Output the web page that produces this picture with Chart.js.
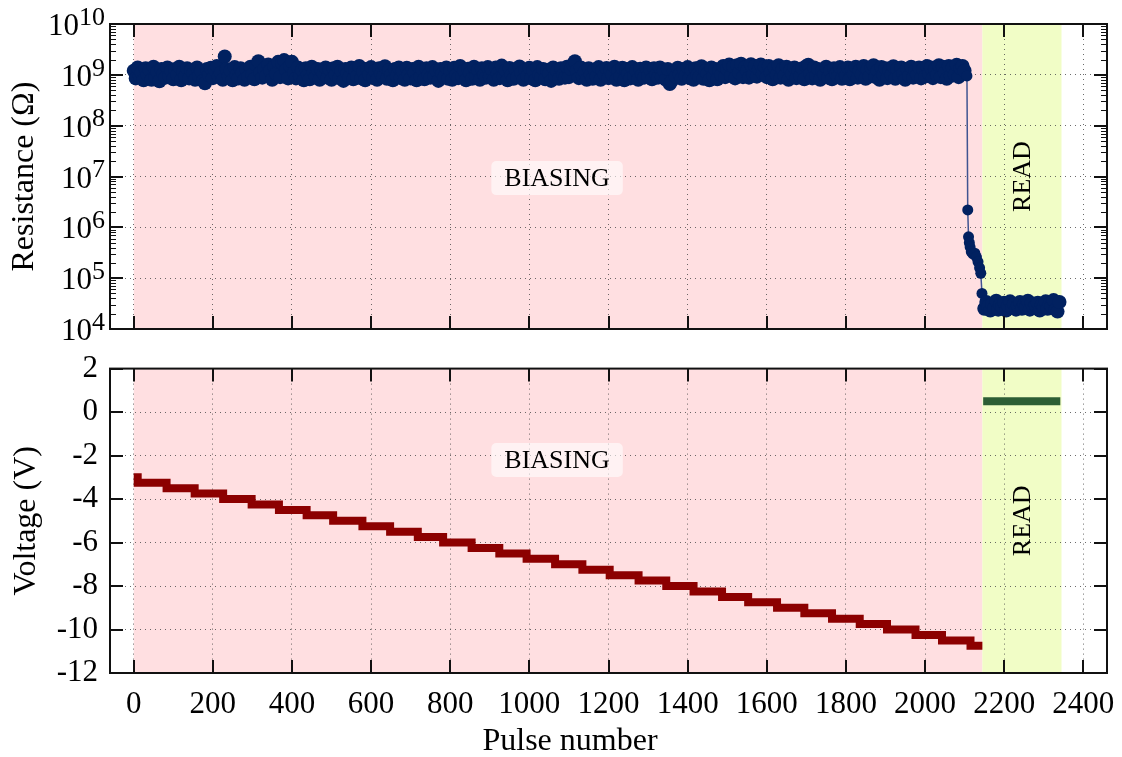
<!DOCTYPE html>
<html>
<head>
<meta charset="utf-8">
<title>Resistance and voltage vs pulse number</title>
<script src="https://cdn.jsdelivr.net/npm/chart.js@4/dist/chart.umd.min.js"></script>
<style>
  html, body { margin: 0; padding: 0; background: #fff; }
  #wrap { position: relative; width: 1122px; height: 757px; overflow: hidden; }
  canvas { position: absolute; left: 0; }
  #resChart { top: 0; }
  #voltChart { top: 338px; }
</style>
</head>
<body>
<div id="wrap">
  <canvas id="resChart" width="1122" height="360"></canvas>
  <canvas id="voltChart" width="1130" height="419"></canvas>
</div>
<script>
// ---- axes ----
const pulseTicks = [0, 200, 400, 600, 800, 1000, 1200, 1400, 1600, 1800, 2000, 2200, 2400];
const resTicks = [1e4, 1e5, 1e6, 1e7, 1e8, 1e9, 1e10];
const voltTicks = [-12, -10, -8, -6, -4, -2, 0, 2];

// ---- phases ----
const phaseNames = ["BIASING", "READ"];
const phaseFrom = [0, 2145];
const phaseTo = [2145, 2345];

// ---- resistance ----
// biasing phase, one reading every 5 pulses, in GOhm
const biasEvery = 5;
const biasResG = [
  1.20, 0.85, 1.40, 0.95, 1.10, 0.78, 1.35, 1.00, 1.25, 0.80,
  1.45, 0.90, 1.15, 0.75, 1.30, 1.05, 0.88, 1.40, 0.95, 1.20,
  0.82, 1.30, 1.00, 1.45, 0.78, 1.15, 0.92, 1.35, 0.85, 1.25,
  1.05, 0.80, 1.40, 0.95, 1.20, 0.76, 0.68, 1.30, 1.00, 1.38,
  0.86, 1.25, 1.50, 0.90, 1.10, 0.80, 2.30, 1.30, 0.95, 1.20,
  0.78, 1.42, 1.00, 0.85, 1.35, 1.10, 0.80, 1.28, 0.92, 1.45,
  1.00, 0.82, 1.55, 1.85, 1.10, 0.88, 1.30, 0.95, 1.60, 1.20,
  0.80, 1.45, 1.05, 1.80, 0.90, 1.70, 1.95, 1.25, 0.85, 1.50,
  1.80, 1.10, 0.85, 1.40, 0.95, 1.25, 0.78, 1.35, 1.00, 0.82,
  1.45, 1.15, 0.90, 1.30, 0.80, 1.20, 1.05, 1.40, 0.88, 1.28,
  0.80, 1.35, 1.00, 1.45, 0.86, 1.20, 0.76, 1.30, 1.05, 0.90,
  1.40, 0.82, 1.25, 0.95, 1.50, 0.85, 1.15, 0.78, 1.32, 1.00,
  1.42, 0.88, 1.20, 0.80, 1.35, 1.05, 0.92, 1.48, 0.84, 1.25,
  1.00, 0.78, 1.30, 0.95, 1.40, 0.86, 1.18, 0.80, 1.38, 1.02,
  0.85, 1.30, 1.10, 0.78, 1.45, 0.92, 1.25, 0.82, 1.35, 1.00,
  0.88, 1.42, 0.95, 1.20, 0.76, 1.30, 1.05, 0.90, 1.40, 0.84,
  1.22, 0.80, 1.38, 1.00, 0.86, 1.50, 0.94, 1.20, 0.78, 1.32,
  1.08, 0.84, 1.45, 0.90, 1.25, 0.80, 1.35, 1.00, 0.88, 1.42,
  0.92, 1.28, 0.80, 1.40, 1.05, 0.86, 1.52, 0.95, 1.20, 0.78,
  1.36, 1.00, 0.84, 1.30, 0.90, 1.46, 1.10, 0.80, 1.25, 0.95,
  1.38, 0.85, 1.20, 0.78, 1.42, 1.00, 0.90, 1.30, 0.82, 1.25,
  1.05, 0.76, 1.40, 0.95, 1.18, 0.84, 1.34, 1.00, 0.88, 1.45,
  0.90, 1.30, 1.60, 1.85, 1.20, 0.86, 1.40, 0.95, 1.15, 0.80,
  1.35, 1.00, 0.84, 1.28, 0.92, 1.42, 0.80, 1.22, 1.00, 1.36,
  0.86, 1.25, 1.00, 1.45, 0.80, 1.20, 0.92, 1.38, 0.78, 1.30,
  1.05, 0.85, 1.42, 0.95, 1.20, 0.80, 1.32, 1.00, 0.88, 1.40,
  0.95, 1.28, 0.82, 1.35, 1.00, 0.88, 1.40, 0.90, 1.22, 0.80,
  1.30, 0.66, 0.76, 1.20, 0.92, 1.38, 1.02, 0.84, 1.30, 0.95,
  1.42, 0.86, 1.25, 0.80, 1.35, 1.00, 0.90, 1.48, 0.84, 1.20,
  1.05, 0.78, 1.40, 0.95, 1.30, 0.82, 1.22, 1.00, 1.50, 0.90,
  1.30, 1.60, 0.95, 1.45, 0.85, 1.55, 1.10, 1.65, 0.90, 1.40,
  1.20, 0.88, 1.62, 1.00, 1.50, 0.92, 1.30, 1.60, 1.05, 1.45,
  0.90, 1.50, 1.10, 0.82, 1.40, 1.00, 1.55, 0.88, 1.30, 0.95,
  1.45, 0.80, 1.25, 1.05, 1.40, 0.86, 1.20, 0.95, 1.35, 0.82,
  1.50, 1.58, 1.05, 0.85, 1.40, 0.95, 1.30, 0.80, 1.22, 1.00,
  1.45, 0.88, 1.20, 0.82, 1.35, 1.05, 0.90, 1.42, 0.84, 1.28,
  0.95, 1.40, 0.82, 1.30, 1.05, 1.45, 0.88, 1.22, 1.00, 1.50,
  0.84, 1.30, 0.92, 1.38, 1.55, 0.90, 1.20, 0.80, 1.42, 1.00,
  1.35, 0.86, 1.25, 1.00, 1.48, 0.84, 1.30, 0.92, 1.40, 1.05,
  0.80, 1.32, 0.95, 1.45, 0.88, 1.20, 1.00, 1.40, 0.85, 1.30,
  0.92, 1.50, 1.05, 1.40, 0.86, 1.30, 1.00, 1.55, 0.90, 1.45,
  1.10, 0.84, 1.50, 0.95, 1.40, 1.00, 1.58, 0.90, 1.35, 1.50,
  1.20
];
// switching pulses, in Ohm
const switchPulse = [2106, 2108, 2110, 2112, 2114, 2117, 2121, 2126, 2130, 2134, 2138, 2141, 2144, 2147];
const switchRes = [0.95e9, 2.2e6, 6.5e5, 5.0e5, 4.1e5, 3.3e5, 3.0e5, 3.1e5, 2.6e5, 2.1e5, 1.6e5, 1.25e5, 5.0e4, 2.6e4];
// read phase, one reading every 5 pulses from pulse 2150, in 10^4 Ohm
const readStart = 2150;
const readEvery = 5;
const readRes4 = [
  2.5, 3.4, 2.8, 2.3, 3.1, 2.6, 3.6, 2.4, 3.0, 2.7,
  3.3, 2.3, 2.9, 3.5, 2.6, 3.1, 2.4, 2.8, 3.4, 2.5,
  3.0, 2.7, 3.6, 2.4, 3.2, 2.6, 2.9, 3.3, 2.3, 3.0,
  2.7, 3.5, 2.5, 3.1, 2.8, 3.7, 2.4, 2.2, 3.4
];

// ---- voltage ----
// biasing staircase: pulse where each level starts, and the level in V
const voltStepAt = [0, 10, 83, 154, 226, 298, 367, 437, 504, 578, 648, 718,
                    782, 854, 924, 993, 1065, 1134, 1203, 1276, 1346, 1415, 1487,
                    1553, 1626, 1695, 1765, 1835, 1904, 1976, 2043, 2115];
const voltLevel = [-3.0, -3.25, -3.5, -3.75, -4.0, -4.25, -4.5, -4.75, -5.0, -5.25, -5.5, -5.75,
                   -6.0, -6.25, -6.5, -6.75, -7.0, -7.25, -7.5, -7.75, -8.0, -8.25, -8.5,
                   -8.75, -9.0, -9.25, -9.5, -9.75, -10.0, -10.25, -10.5, -10.75];
const voltEnd = 2145;
const readVoltPulse = [2147, 2342];
const readVolt = [0.5, 0.5];

const serif = "'Liberation Serif', 'Times New Roman', serif";

const resPoints = biasResG.map((g, i) => ({ x: i * biasEvery, y: g * 1e9 }))
  .concat(switchPulse.map((p, i) => ({ x: p, y: switchRes[i] })))
  .concat(readRes4.map((r, i) => ({ x: readStart + i * readEvery, y: r * 1e4 })));

// the sparse switching points are drawn a little smaller than the dense bands
const switchFirst = biasResG.length;
const switchLast = switchFirst + switchPulse.length - 1;

const voltPoints = voltStepAt.map((p, i) => ({ x: p, y: voltLevel[i] }));
voltPoints.push({ x: voltEnd, y: voltLevel[voltLevel.length - 1] });

const readPoints = readVoltPulse.map((p, i) => ({ x: p, y: readVolt[i] }));

/* -------- frame, shading and labels -------- */

const framePlugin = {
  id: "frame",
  beforeDraw(chart, args, opts) {
    const { ctx, chartArea: a, scales: { x } } = chart;
    ctx.save();
    phaseFrom.forEach((from, i) => {
      const x0 = x.getPixelForValue(from);
      const x1 = x.getPixelForValue(phaseTo[i]);
      ctx.fillStyle = opts.fills[i];
      ctx.fillRect(x0, a.top, x1 - x0, a.bottom - a.top);
    });
    ctx.restore();
  },
  afterDraw(chart, args, opts) {
    const { ctx, chartArea: a, scales: { x, y } } = chart;
    ctx.save();

    // inward tick marks on all four sides
    ctx.strokeStyle = "#111";
    ctx.lineWidth = 2;
    ctx.beginPath();
    x.ticks.forEach(t => {
      const px = Math.round(x.getPixelForValue(t.value));
      ctx.moveTo(px, a.bottom); ctx.lineTo(px, a.bottom - 13);
      ctx.moveTo(px, a.top); ctx.lineTo(px, a.top + 13);
    });
    y.ticks.forEach(t => {
      const py = Math.round(y.getPixelForValue(t.value));
      ctx.moveTo(a.left, py); ctx.lineTo(a.left + 13, py);
      ctx.moveTo(a.right, py); ctx.lineTo(a.right - 13, py);
    });
    ctx.stroke();

    if (opts.logMinor) {
      ctx.lineWidth = 1.2;
      ctx.beginPath();
      for (let i = 0; i < resTicks.length - 1; i++) {
        for (let m = 2; m < 10; m++) {
          const py = Math.round(y.getPixelForValue(resTicks[i] * m)) + 0.5;
          ctx.moveTo(a.left, py); ctx.lineTo(a.left + 6, py);
          ctx.moveTo(a.right, py); ctx.lineTo(a.right - 6, py);
        }
      }
      ctx.stroke();
    }

    ctx.lineWidth = 2;
    ctx.strokeRect(a.left, a.top, a.right - a.left, a.bottom - a.top);

    ctx.fillStyle = "#000";

    // powers of ten on the log axis
    if (opts.powerLabels) {
      ctx.textBaseline = "middle";
      ctx.textAlign = "left";
      y.ticks.forEach(t => {
        const py = y.getPixelForValue(t.value);
        const exp = String(Math.round(Math.log10(t.value)));
        ctx.font = `26px ${serif}`;
        const ew = ctx.measureText(exp).width;
        const right = a.left - 5;
        ctx.fillText(exp, right - ew, py - 6);
        ctx.font = `31px ${serif}`;
        const bw = ctx.measureText("10").width;
        ctx.fillText("10", right - ew - bw, py + 3);
      });
    }

    // phase labels
    ctx.textAlign = "center";
    ctx.textBaseline = "middle";
    ctx.font = `26px ${serif}`;
    (opts.labels || []).forEach(l => {
      const px = x.getPixelForValue(l.x);
      const py = y.getPixelForValue(l.y);
      if (l.box) {
        const w = ctx.measureText(l.text).width + 26;
        const h = 34;
        ctx.fillStyle = "rgba(255,255,255,0.6)";
        ctx.beginPath();
        ctx.roundRect(px - w / 2, py - h / 2, w, h, 5);
        ctx.fill();
      }
      ctx.fillStyle = "#000";
      ctx.save();
      ctx.translate(px, py);
      ctx.rotate(l.rotate || 0);
      ctx.fillText(l.text, 0, 1);
      ctx.restore();
    });

    // axis titles
    ctx.font = `32px ${serif}`;
    if (opts.yTitle) {
      ctx.save();
      ctx.translate(opts.yTitle.x, (a.top + a.bottom) / 2);
      ctx.rotate(-Math.PI / 2);
      ctx.fillText(opts.yTitle.text, 0, 0);
      ctx.restore();
    }
    if (opts.xTitle) {
      ctx.fillText(opts.xTitle.text, opts.xTitle.x, opts.xTitle.y);
    }
    ctx.restore();
  }
};

const gridColor = "rgba(70,70,70,0.8)";
const fills = ["#ffdfe1", "#f1fdc6"];

function pulseAxis(showLabels, height) {
  return {
    type: "linear",
    min: -60,
    max: 2460,
    afterBuildTicks: s => { s.ticks = pulseTicks.map(v => ({ value: v })); },
    ticks: {
      display: showLabels,
      color: "#000",
      font: { family: serif, size: 31 },
      padding: 13,
      maxRotation: 0,
      autoSkip: false,
      callback: v => String(v)
    },
    grid: { color: gridColor, lineWidth: 1, drawTicks: false },
    border: { display: false, dash: [1, 4] },
    afterFit: s => { s.height = height; }
  };
}

new Chart(document.getElementById("resChart"), {
  type: "line",
  data: {
    datasets: [{
      label: "Resistance",
      data: resPoints,
      showLine: true,
      borderColor: "rgba(30,60,130,0.85)",
      borderWidth: 1.5,
      pointRadius: c => (c.dataIndex >= switchFirst && c.dataIndex <= switchLast) ? 5.5 : 7,
      pointBorderWidth: 0,
      pointBackgroundColor: "#012160"
    }]
  },
  plugins: [framePlugin],
  options: {
    responsive: false,
    animation: false,
    events: [],
    devicePixelRatio: 1,
    layout: { padding: { top: 24, right: 15, left: 0, bottom: 0 } },
    scales: {
      x: pulseAxis(false, 31),
      y: {
        type: "logarithmic",
        min: 1e4,
        max: 1e10,
        afterBuildTicks: s => { s.ticks = resTicks.map(v => ({ value: v })); },
        ticks: { display: false },
        grid: { color: gridColor, lineWidth: 1, drawTicks: false },
        border: { display: false, dash: [1, 4] },
        afterFit: s => { s.width = 110; }
      }
    },
    plugins: {
      legend: { display: false },
      tooltip: { enabled: false },
      frame: {
        fills,
        logMinor: true,
        powerLabels: true,
        yTitle: { text: "Resistance (Ω)", x: 25 },
        labels: [
          { text: phaseNames[0], x: 1070, y: 9.3e6, box: true },
          { text: phaseNames[1], x: 2246, y: 1e7, rotate: -Math.PI / 2 }
        ]
      }
    }
  }
});

new Chart(document.getElementById("voltChart"), {
  type: "line",
  data: {
    datasets: [{
      label: "Bias voltage",
      data: voltPoints,
      stepped: true,
      borderColor: "#8c0000",
      borderWidth: 8,
      borderCapStyle: "butt",
      borderJoinStyle: "miter",
      pointRadius: 0
    }, {
      label: "Read voltage",
      data: readPoints,
      borderColor: "#2d5e35",
      borderWidth: 8,
      borderCapStyle: "butt",
      pointRadius: 0
    }]
  },
  plugins: [framePlugin],
  options: {
    responsive: false,
    animation: false,
    events: [],
    devicePixelRatio: 1,
    layout: { padding: { top: 30, right: 23, left: 0, bottom: 0 } },
    scales: {
      x: pulseAxis(true, 84),
      y: {
        type: "linear",
        min: -12,
        max: 2,
        afterBuildTicks: s => { s.ticks = voltTicks.map(v => ({ value: v })); },
        ticks: {
          color: "#000",
          font: { family: serif, size: 31 },
          padding: 12,
          callback: v => String(v)
        },
        grid: { color: gridColor, lineWidth: 1, drawTicks: false },
        border: { display: false, dash: [1, 4] },
        afterFit: s => { s.width = 110; }
      }
    },
    plugins: {
      legend: { display: false },
      tooltip: { enabled: false },
      frame: {
        fills,
        yTitle: { text: "Voltage (V)", x: 27 },
        xTitle: { text: "Pulse number", x: 570, y: 404 },
        labels: [
          { text: phaseNames[0], x: 1070, y: -2.2, box: true },
          { text: phaseNames[1], x: 2246, y: -5, rotate: -Math.PI / 2 }
        ]
      }
    }
  }
});
</script>
</body>
</html>
